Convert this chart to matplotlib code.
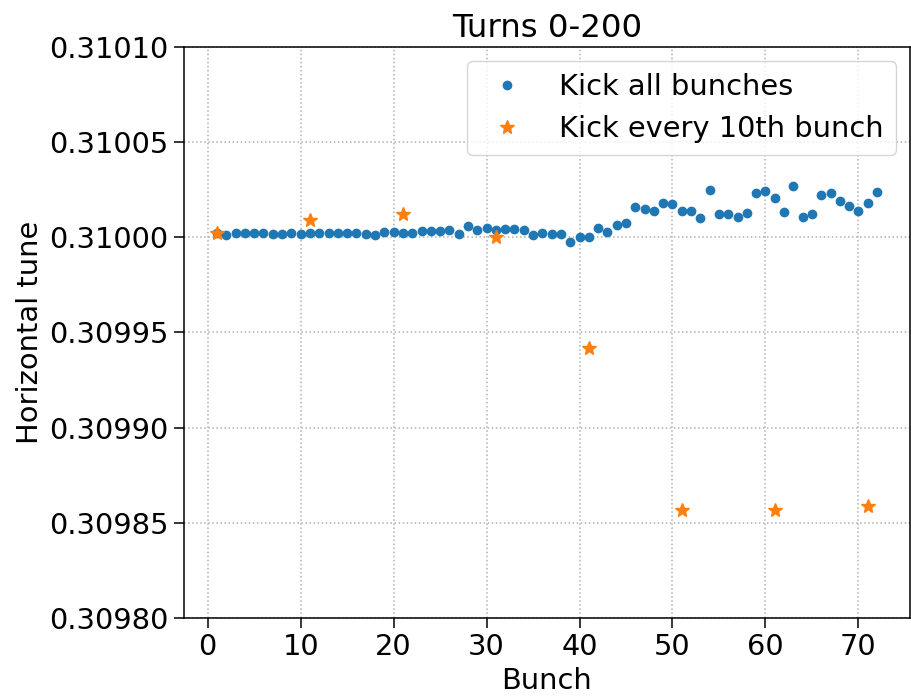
import matplotlib.pyplot as plt
import numpy as np
from matplotlib.ticker import FormatStrFormatter

# horizontal tune per bunch, turns 0-200
bunch_all = np.arange(1, 73)
tune_all_off = [0.22, 0.14, 0.21, 0.25, 0.23, 0.21, 0.19, 0.19, 0.23, 0.19,
                0.21, 0.21, 0.25, 0.25, 0.23, 0.25, 0.18, 0.14, 0.28, 0.26,
                0.25, 0.21, 0.32, 0.33, 0.33, 0.37, 0.16, 0.60, 0.40, 0.49,
                0.37, 0.44, 0.44, 0.40, 0.14, 0.21, 0.19, 0.19, -0.26, 0.02,
                0.00, 0.51, 0.28, 0.67, 0.75, 1.60, 1.49, 1.39, 1.82, 1.75,
                1.37, 1.37, 1.02, 2.47, 1.23, 1.21, 1.05, 1.30, 2.32, 2.44,
                2.07, 1.32, 2.68, 1.09, 1.21, 2.25, 2.32, 1.89, 1.63, 1.39,
                1.81, 2.39]
tune_all = 0.31 + np.array(tune_all_off) * 1e-5

bunch_10 = [1, 11, 21, 31, 41, 51, 61, 71]
tune_10 = [0.3100023, 0.3100091, 0.3100123, 0.3100000,
           0.3099421, 0.3098567, 0.3098570, 0.3098589]

plt.rcParams['font.size'] = 20.8

fig = plt.figure(figsize=(9.12, 6.98), dpi=100)
ax = fig.add_axes([184/912, 1 - 618/698, (910-184)/912, (618-47)/698])

ax.plot(bunch_all, tune_all, 'o', color='#1f77b4', markersize=6, label='Kick all bunches')
ax.plot(bunch_10, tune_10, '*', color='#ff7f0e', markersize=10.5, label='Kick every 10th bunch')

ax.set_ylim(0.30980, 0.31010)
ax.set_yticks(np.arange(0.30980, 0.310101, 0.00005))
ax.yaxis.set_major_formatter(FormatStrFormatter('%.5f'))
ax.set_xticks(np.arange(0, 71, 10))

ax.grid(True, linestyle=':', color='#b0b0b0', linewidth=1.1)
for s in ax.spines.values():
    s.set_linewidth(1.1)
ax.tick_params(length=7.5, width=1.1)

ax.set_title('Turns 0-200', fontsize=23.3, pad=7)
ax.set_xlabel('Bunch')
ax.set_ylabel('Horizontal tune')
ax.legend(loc='upper right')

fig.savefig('out.png', dpi=100)
